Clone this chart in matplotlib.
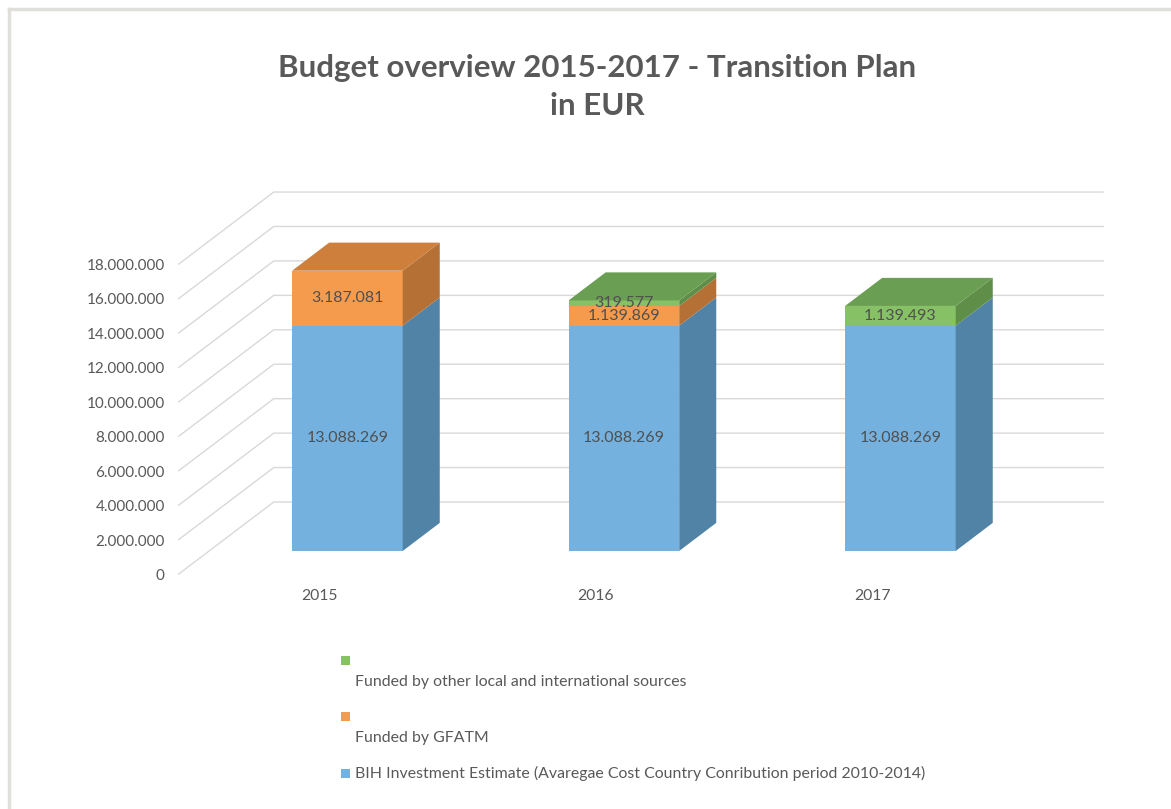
import matplotlib.pyplot as plt
from matplotlib.patches import Polygon, Rectangle
import numpy as np

plt.rcParams['font.family'] = ['Lato', 'DejaVu Sans']

# Data
years = ['2015', '2016', '2017']
series_names = [
    'BIH Investment Estimate (Avaregae Cost Country Conribution period 2010-2014)',
    'Funded by GFATM',
    'Funded by other local and international sources',
]
bih_estimate = [13088269, 13088269, 13088269]
gfatm = [3187081, 1139869, 0]
other_sources = [0, 319577, 1139493]
y_ticks = list(range(0, 18000001, 2000000))

# colours: front, top, side for each series
front_cols = ['#74B1DF', '#F59B4D', '#86C166']
top_cols = ['#5F93BD', '#CE7F3C', '#6A9E52']
side_cols = ['#5083A5', '#B47035', '#5E8E48']
text_col = '#595959'
grid_col = '#D9D9D9'

W, H = 1171, 809
fig = plt.figure(figsize=(W / 100, H / 100), dpi=100)
ax = fig.add_axes([0, 0, 1, 1])
ax.axis('off')

# pixel scale of the oblique projection
px_x = 276.5             # px per category
px_y = 34.44 / 2e6       # px per EUR
x0_px, y0_px = 317, 574  # position of category 0 / value 0 on the front plane
ax.set_xlim(-x0_px / px_x, (W - x0_px) / px_x)
ax.set_ylim((y0_px - H) / px_y, y0_px / px_y)

DX = 95 / px_x   # full depth offset in x
DY = 72 / px_y   # full depth offset in y


def proj(x, y, z):
    return (x + z * DX, y + z * DY)


# back wall gridlines + floor diagonals
for v in y_ticks:
    a = proj(-0.5, v, 0)
    b = proj(-0.5, v, 1)
    c = proj(2.5, v, 1)
    ax.plot([a[0], b[0], c[0]], [a[1], b[1], c[1]], color=grid_col, lw=1.0, zorder=0)
    ax.text(-0.5 - 14 / px_x, v - 2 / px_y, f'{v:,}'.replace(',', '.'), ha='right', va='center',
            fontsize=11, color=text_col)

for i, y in enumerate(years):
    ax.text(i + 2 / px_x, -22 / px_y, y, ha='center', va='center', fontsize=11.3, color=text_col)

# bars
bw = 0.4
z_front, z_back = 0.32, 0.71
stack = np.array([bih_estimate, gfatm, other_sources], dtype=float)
for i in range(len(years)):
    bottom = 0.0
    top_idx = max(k for k in range(3) if stack[k, i] > 0)
    for k in range(3):
        val = stack[k, i]
        if val <= 0:
            continue
        xl, xr = i - bw / 2, i + bw / 2
        # front face
        fx, fy = proj(xl, bottom, z_front)
        ax.bar(fx + bw / 2, val, width=bw, bottom=fy, color=front_cols[k], zorder=2)
        # right side face
        side = [proj(xr, bottom, z_front), proj(xr, bottom, z_back),
                proj(xr, bottom + val, z_back), proj(xr, bottom + val, z_front)]
        ax.add_patch(Polygon(side, closed=True, facecolor=side_cols[k], edgecolor='none', zorder=2))
        if k == top_idx:
            tv = bottom + val
            topf = [proj(xl, tv, z_front), proj(xr, tv, z_front),
                    proj(xr, tv, z_back), proj(xl, tv, z_back)]
            ax.add_patch(Polygon(topf, closed=True, facecolor=top_cols[k], edgecolor='none', zorder=2))
        # value label
        lx, ly = proj(i, bottom + val / 2, z_front)
        ax.text(lx, ly, f'{int(val):,}'.replace(',', '.'), ha='center', va='center',
                fontsize=11.5, color='#505050', zorder=3)
        bottom += val

# title
fig.text(597 / W, 1 - 87 / H, 'Budget overview 2015-2017 - Transition Plan\nin EUR',
         ha='center', va='center', fontsize=22.5, fontweight='bold', color=text_col,
         linespacing=1.45)

# legend
leg_rows = [
    (2, 660, 682),
    (1, 716, 738),
    (0, 773, 773),
]
for k, sq_y, txt_y in leg_rows:
    s = 9
    fig.patches.append(Rectangle(((345 - s / 2) / W, 1 - (sq_y + s / 2) / H), s / W, s / H,
                                 transform=fig.transFigure, facecolor=front_cols[k],
                                 edgecolor='none'))
    fig.text(355 / W, 1 - txt_y / H, series_names[k], ha='left', va='center',
             fontsize=11.4, color=text_col)

# chart frame (left and top edges)
fig.add_artist(plt.Line2D([9 / W, 9 / W], [0, 1 - 9 / H], transform=fig.transFigure,
                          color='#E0DFD9', lw=2.5))
fig.add_artist(plt.Line2D([9 / W, 1], [1 - 9 / H, 1 - 9 / H], transform=fig.transFigure,
                          color='#E0DFD9', lw=2.5))

fig.savefig('out.png', dpi=100)
